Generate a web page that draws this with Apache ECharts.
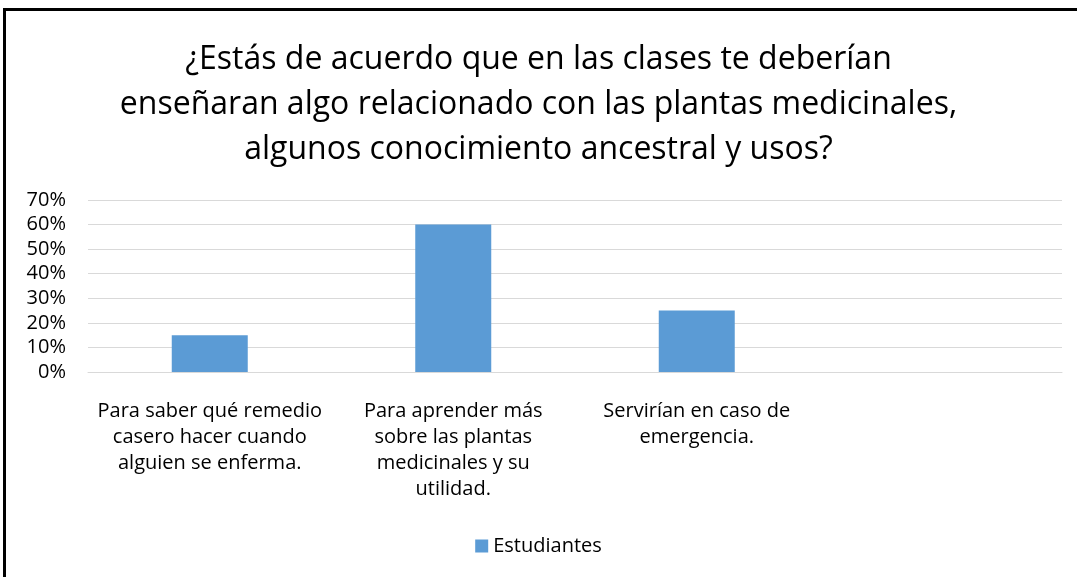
<!DOCTYPE html>
<html>
<head>
<meta charset="utf-8">
<script src="https://cdn.jsdelivr.net/npm/echarts@6/dist/echarts.min.js"></script>
<style>
  html, body { margin: 0; padding: 0; background: #fff; }
  #frame { position: absolute; left: 3px; top: 8px; width: 1080px; height: 580px;
           border-top: 3px solid #000; border-left: 3px solid #000; box-sizing: border-box; }
  #chart { position: absolute; left: 0; top: 0; width: 1077px; height: 577px; }
</style>
</head>
<body>
<div id="frame"></div>
<div id="chart"></div>
<script>
// datos de la encuesta
var titulo = '¿Estás de acuerdo que en las clases te deberían\nenseñaran algo relacionado con las plantas medicinales,\nalgunos conocimiento ancestral y usos?';
var categorias = [
    'Para saber qué remedio\ncasero hacer cuando\nalguien se enferma.',
    'Para aprender más\nsobre las plantas\nmedicinales y su\nutilidad.',
    'Servirían en caso de\nemergencia.',
    ''
];
var estudiantes = [0.15, 0.60, 0.25, null];
var serieNombre = 'Estudiantes';

var fuente = '"Open Sans", sans-serif';
var myChart = echarts.init(document.getElementById('chart'));

var option = {
    animation: false,
    title: {
        text: titulo,
        left: 'center',
        top: 32,
        textStyle: {
            fontFamily: fuente,
            fontSize: 32,
            fontWeight: 'normal',
            color: '#000',
            lineHeight: 45
        }
    },
    legend: {
        bottom: 16,
        left: 'center',
        itemWidth: 13,
        itemHeight: 13,
        itemGap: 6,
        icon: 'rect',
        textStyle: { fontFamily: fuente, fontSize: 20, color: '#000' },
        data: [serieNombre]
    },
    grid: {
        left: 88,
        right: 15,
        top: 200,
        bottom: 205,
        containLabel: false
    },
    xAxis: {
        type: 'category',
        data: categorias,
        axisLine: { lineStyle: { color: '#D9D9D9' } },
        axisTick: { show: false },
        axisLabel: {
            interval: 0,
            fontFamily: fuente,
            fontSize: 20,
            color: '#000',
            lineHeight: 26,
            margin: 26,
            align: 'center'
        }
    },
    yAxis: {
        type: 'value',
        min: 0,
        max: 0.7,
        interval: 0.1,
        axisLine: { show: false },
        axisTick: { show: false },
        splitLine: { lineStyle: { color: '#D9D9D9', width: 1 } },
        axisLabel: {
            fontFamily: fuente,
            fontSize: 20,
            color: '#000',
            margin: 22,
            formatter: function (value) {
                return Math.round(value * 100) + '%';
            }
        }
    },
    series: [{
        name: serieNombre,
        type: 'bar',
        data: estudiantes,
        barWidth: 76,
        itemStyle: { color: '#5B9BD5' }
    }]
};

myChart.setOption(option);
</script>
</body>
</html>
